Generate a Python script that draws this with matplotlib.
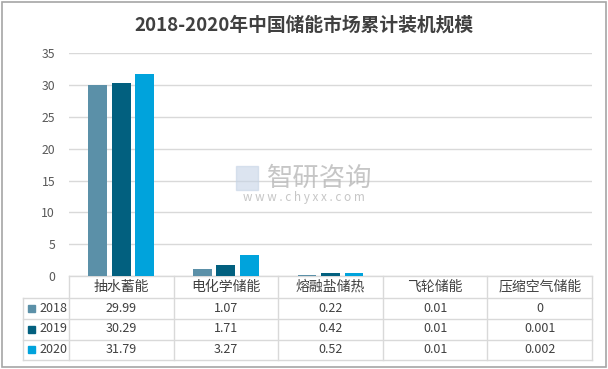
import matplotlib.pyplot as plt
import matplotlib.transforms as mtransforms
from matplotlib.patches import Rectangle

plt.rcParams['font.family'] = ['Noto Sans CJK SC', 'DejaVu Sans']

# data
categories = ['抽水蓄能', '电化学储能', '熔融盐储热', '飞轮储能', '压缩空气储能']
years = ['2018', '2019', '2020']
v2018 = [29.99, 1.07, 0.22, 0.01, 0]
v2019 = [30.29, 1.71, 0.42, 0.01, 0.001]
v2020 = [31.79, 3.27, 0.52, 0.01, 0.002]
labels2018 = ['29.99', '1.07', '0.22', '0.01', '0']
labels2019 = ['30.29', '1.71', '0.42', '0.01', '0.001']
labels2020 = ['31.79', '3.27', '0.52', '0.01', '0.002']
colors = ['#5b90a8', '#02607f', '#00a3dc']

W, H = 608, 369
fig = plt.figure(figsize=(W / 100, H / 100), dpi=100)

def fx(px):
    return px / W

def fy(py):
    return 1 - py / H

# plot area in pixels
left, right, top, bottom = 69, 592, 53.3, 276
ax = fig.add_axes([fx(left), fy(bottom), fx(right - left), (bottom - top) / H])

series = [v2018, v2019, v2020]
offsets = [-0.225, 0, 0.225]
x = list(range(len(categories)))
for vals, off, c in zip(series, offsets, colors):
    ax.bar([i + off for i in x], vals, width=0.18, color=c, zorder=3)

ax.set_xlim(-0.5, len(categories) - 0.5)
ax.set_ylim(0, 35)
ax.set_yticks(range(0, 36, 5))
ax.set_xticks([])
ax.tick_params(axis='y', length=0, labelsize=8.8, labelcolor='#595959', pad=10)
ax.grid(axis='y', color='#d9d9d9', linewidth=1, zorder=0)
for s in ax.spines.values():
    s.set_visible(False)

# data table below the plot
grid_c = '#d9d9d9'
tr = mtransforms.blended_transform_factory(ax.transData, fig.transFigure)
rows_px = [276, 297.7, 318.5, 339.5, 360.3]
legend_left = -0.5 - (left - 23) / ((right - left) / len(categories))
ncat = len(categories)

for i, yp in enumerate(rows_px):
    x0 = -0.5 if i == 0 else legend_left
    ax.plot([x0, ncat - 0.5], [fy(yp), fy(yp)], color=grid_c, lw=1,
            transform=tr, clip_on=False, zorder=1)
for k in range(ncat + 1):
    ax.plot([k - 0.5, k - 0.5], [fy(rows_px[0]), fy(rows_px[-1])], color=grid_c,
            lw=1, transform=tr, clip_on=False)
ax.plot([legend_left, legend_left], [fy(rows_px[1]), fy(rows_px[-1])], color=grid_c,
        lw=1, transform=tr, clip_on=False)

# header row
for i, cat in enumerate(categories):
    ax.text(i, fy((rows_px[0] + rows_px[1]) / 2), cat, transform=tr,
            ha='center', va='center', fontsize=10, color='#404040')

# value rows with legend keys
row_labels = [labels2018, labels2019, labels2020]
for r, (yr, labs, c) in enumerate(zip(years, row_labels, colors)):
    yc = fy((rows_px[r + 1] + rows_px[r + 2]) / 2)
    fig.patches.append(Rectangle((fx(28), yc - 3.5 / H), 7 / W, 7 / H, color=c,
                                 transform=fig.transFigure))
    fig.text(fx(39), yc, yr, ha='left', va='center', fontsize=9, color='#404040')
    for i, lab in enumerate(labs):
        ax.text(i, yc, lab, transform=tr, ha='center', va='center',
                fontsize=9, color='#404040')

# title
fig.text(0.5, fy(25), '2018-2020年中国储能市场累计装机规模', ha='center', va='center',
         fontsize=13.5, fontweight='bold', color='#404040')

# watermark
fig.patches.append(Rectangle((fx(236), fy(190)), 22 / W, 24 / H, color='#c5d3e6',
                             alpha=0.6, transform=fig.transFigure))
fig.text(fx(320), fy(178), '智研咨询', ha='center', va='center', fontsize=19,
         color='#b8b8b8', alpha=0.8)
fig.text(fx(304), fy(197), 'w w w . c h y x x . c o m', ha='center', va='center',
         fontsize=8.5, color='#b8b8b8', alpha=0.8)

# outer border
fig.patches.append(Rectangle((fx(2), fy(366.5)), fx(603.5), (366.5 - 1.5) / H,
                             fill=False, edgecolor='#a6a6a6', lw=1.2,
                             transform=fig.transFigure))

fig.savefig('out.png', dpi=100)
